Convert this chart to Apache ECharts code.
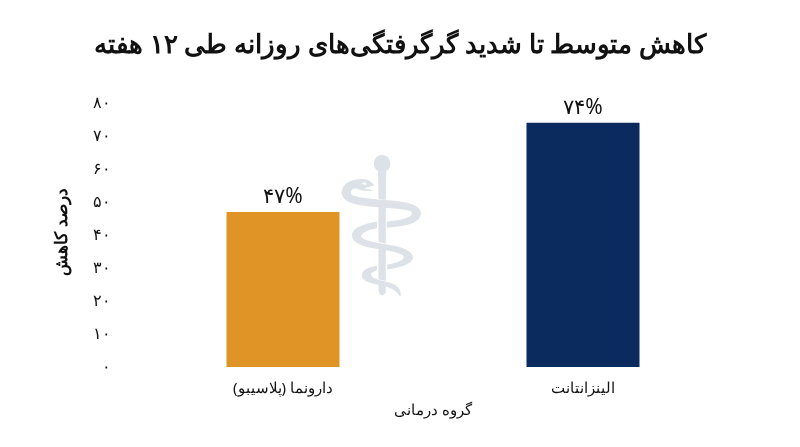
<!DOCTYPE html>
<html><head><meta charset="utf-8">
<script src="https://cdn.jsdelivr.net/npm/echarts@6/dist/echarts.min.js"></script>
<style>html,body{margin:0;padding:0;background:#fff}#c{width:800px;height:447px}</style>
</head><body><div id="c"></div>
<script>
var categories = ['دارونما (پلاسیبو)', 'الینزانتانت'];
var values = [47, 74];
var barColors = ['#E09426', '#0B2A5E'];
var faDigits = '۰۱۲۳۴۵۶۷۸۹';
function fa(n) { return String(n).replace(/[0-9]/g, function (d) { return faDigits[d]; }); }

var chart = echarts.init(document.getElementById('c'));
chart.setOption({
    title: {
        text: 'کاهش متوسط تا شدید گرگرفتگی‌های روزانه طی ۱۲ هفته',
        left: 'center', top: 28,
        textStyle: { fontFamily: 'Noto Sans', fontSize: 26, fontWeight: 'bold', color: '#111' }
    },
    graphic: [{
        type: 'text', left: 330, top: 150, z: 0,
        style: { text: '⚕', font: '190px DejaVu Sans', fill: '#dde2e8' }
    }, {
        type: 'text', x: 62, y: 232, rotation: Math.PI / 2,
        style: { text: 'درصد کاهش', font: 'bold 17px Noto Sans', fill: '#111', align: 'center', verticalAlign: 'middle' }
    }],
    grid: { left: 133, right: 67, top: 103, bottom: 80 },
    xAxis: {
        type: 'category', data: categories,
        name: 'گروه درمانی', nameLocation: 'middle', nameGap: 36,
        nameTextStyle: { fontFamily: 'Noto Sans', fontSize: 15, color: '#111' },
        axisLine: { show: false }, axisTick: { show: false },
        axisLabel: { fontFamily: 'Noto Sans', fontSize: 15, color: '#111', margin: 14 }
    },
    yAxis: {
        type: 'value', min: 0, max: 80, interval: 10,
        splitLine: { show: false }, axisLine: { show: false }, axisTick: { show: false },
        axisLabel: { fontFamily: 'Noto Sans', fontSize: 16, color: '#111', margin: 22, formatter: fa }
    },
    series: [{
        type: 'bar', barWidth: 113, z: 5,
        data: values.map(function (v, i) { return { value: v, itemStyle: { color: barColors[i] } }; }),
        label: {
            show: true, position: 'top', distance: 4,
            fontFamily: 'Noto Sans', fontSize: 21, color: '#111',
            formatter: function (p) { return fa(p.value) + '%'; }
        }
    }]
});
</script></body></html>
